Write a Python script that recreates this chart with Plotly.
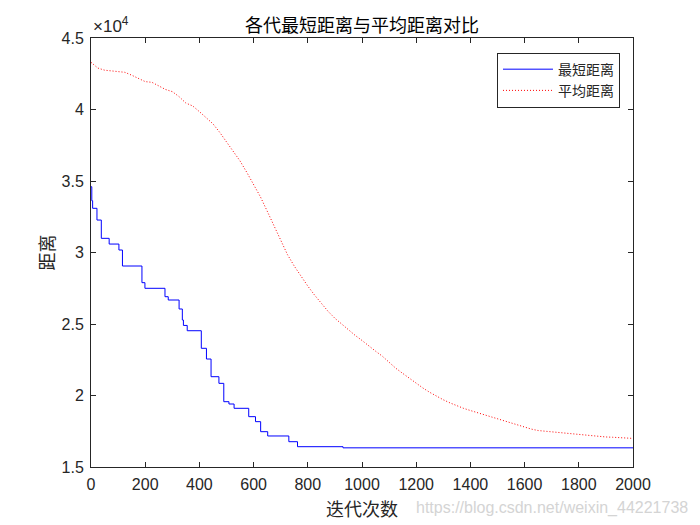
import plotly.graph_objects as go

# ---- data ----
best_iter = [0, 3, 6, 22, 38, 67, 103, 116, 188, 199, 273, 285, 325, 337, 341, 355,
             407, 426, 443, 472, 490, 509, 528, 582, 607, 626, 652, 730, 762, 930, 2000]
best_dist = [34600, 33620, 33090, 32270, 30990, 30590, 30175, 29056, 27890, 27496, 26910,
             26678, 26050, 25280, 24900, 24530, 23300, 22550, 21315, 20850, 19567, 19405,
             19105, 18520, 18170, 17470, 17170, 16770, 16420, 16340, 16340]

avg_iter = list(range(0, 2001, 25))
avg_dist = [43300, 42900, 42750, 42700, 42650, 42600, 42400, 42200, 41950, 41900,
            41650, 41400, 41250, 40900, 40450, 40250, 39850, 39400, 39000, 38400,
            37750, 37100, 36400, 35600, 34800, 33900, 32900, 31900, 30800, 29850,
            29050, 28320, 27650, 27020, 26420, 25880, 25400, 24980, 24600, 24200,
            23850, 23450, 23100, 22750, 22300, 21900, 21550, 21200, 20850, 20520,
            20220, 19950, 19700, 19480, 19280, 19100, 18950, 18800, 18650, 18500,
            18350, 18200, 18050, 17900, 17750, 17650, 17550, 17500, 17450, 17400,
            17350, 17300, 17250, 17200, 17150, 17120, 17100, 17080, 17050, 17020, 17000]

x_ticks = list(range(0, 2001, 200))
y_tickvals = [15000, 20000, 25000, 30000, 35000, 40000, 45000]
y_ticktext = ["1.5", "2", "2.5", "3", "3.5", "4", "4.5"]

title_text = "各代最短距离与平均距离对比"
xlabel = "迭代次数"
ylabel = "距离"
series_names = ["最短距离", "平均距离"]
watermark = "https://blog.csdn.net/weixin_44221738"

SANS = "Liberation Sans, Arial, sans-serif"
CJK = "Noto Sans CJK SC, sans-serif"
AX = "#262626"

fig = go.Figure()
fig.add_trace(go.Scatter(x=best_iter, y=best_dist, mode="lines", line_shape="hv",
                         name=series_names[0], line=dict(color="#0000ff", width=1)))
fig.add_trace(go.Scatter(x=avg_iter, y=avg_dist, mode="lines",
                         name=series_names[1],
                         line=dict(color="#ff0000", width=1, dash="1px,2px")))

axis_common = dict(showgrid=False, zeroline=False, showline=True, linecolor=AX, linewidth=1,
                   mirror="ticks", ticks="inside", ticklen=5, tickcolor=AX, tickwidth=1,
                   tickfont=dict(family=SANS, size=16, color=AX))

fig.update_xaxes(range=[0, 2000], tickvals=x_ticks, ticklabelstandoff=3, **axis_common)
fig.update_yaxes(range=[15000, 45000], tickvals=y_tickvals, ticktext=y_ticktext,
                 ticklabelstandoff=3, **axis_common)

fig.update_layout(
    width=700, height=525,
    margin=dict(l=91, r=67, t=38, b=58),
    paper_bgcolor="white", plot_bgcolor="white",
    showlegend=True,
    legend=dict(x=0.976, y=0.966, xanchor="right", yanchor="top",
                bgcolor="white", bordercolor=AX, borderwidth=1,
                font=dict(family=CJK, size=14, color=AX),
                itemwidth=50, tracegroupgap=0),
    annotations=[
        dict(text=title_text, xref="paper", yref="paper", x=0.5, y=1, yshift=14,
             xanchor="center", yanchor="middle", showarrow=False,
             font=dict(family=CJK, size=18, color="#000000")),
        dict(text=xlabel, xref="paper", yref="paper", x=0.5, y=0, yshift=-41,
             xanchor="center", yanchor="middle", showarrow=False,
             font=dict(family=CJK, size=18, color=AX)),
        dict(text=ylabel, xref="paper", yref="paper", x=0, y=0.5, xshift=-46,
             xanchor="center", yanchor="middle", showarrow=False, textangle=-90,
             font=dict(family=CJK, size=18, color=AX)),
        dict(text="×10<sup>4</sup>", xref="paper", yref="paper", x=0, y=1, yshift=0,
             xanchor="left", yanchor="bottom", showarrow=False,
             font=dict(family=SANS, size=17, color=AX)),
        dict(text=watermark, xref="paper", yref="paper", x=1, y=0, xshift=57, yshift=-41,
             xanchor="right", yanchor="middle", showarrow=False,
             font=dict(family=SANS, size=16, color="#d4d4d4")),
    ],
)

fig.write_html("out.html")
